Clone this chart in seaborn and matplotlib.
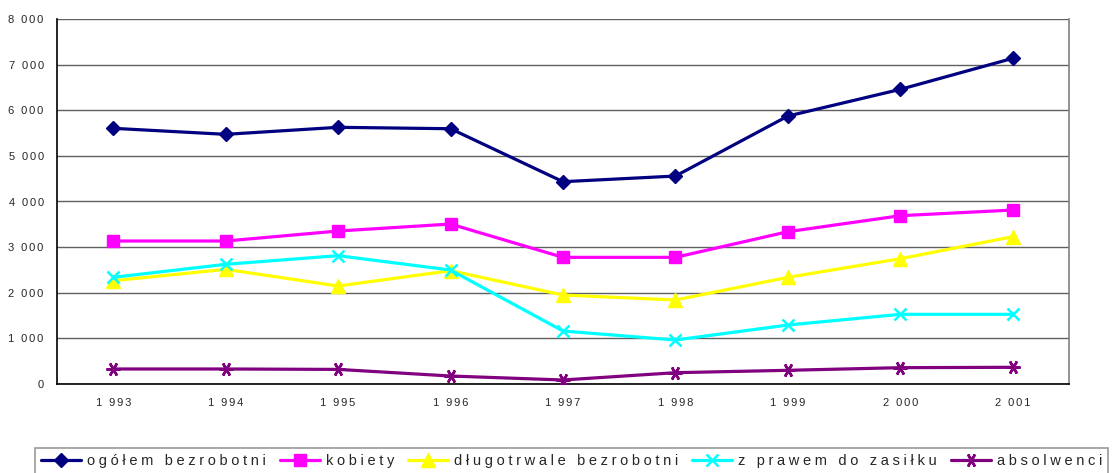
import matplotlib
matplotlib.use("Agg")
import matplotlib.pyplot as plt
import seaborn as sns
import pandas as pd
import numpy as np
from matplotlib.ticker import FuncFormatter, FixedLocator

years = ["1 993", "1 994", "1 995", "1 996", "1 997", "1 998", "1 999", "2 000", "2 001"]
ogolem = [5604, 5472, 5626, 5595, 4434, 4558, 5873, 6458, 7138]
kobiety = [3134, 3134, 3353, 3506, 2776, 2776, 3338, 3689, 3813]
dlugotrwale = [2264, 2513, 2148, 2484, 1950, 1841, 2338, 2747, 3229]
z_prawem = [2338, 2623, 2813, 2498, 1161, 964, 1293, 1527, 1527]
absolwenci = [329, 329, 320, 175, 88, 248, 300, 358, 366]

series_names = ["ogółem bezrobotni", "kobiety", "długotrwale bezrobotni",
                "z prawem do zasiłku", "absolwenci"]
series_vals = [ogolem, kobiety, dlugotrwale, z_prawem, absolwenci]


def spaced(s, sep):
    # emulate the wide letter tracking of the original
    return sep.join(s)


rows = []
for name, vals in zip(series_names, series_vals):
    for i, v in enumerate(vals):
        rows.append({"x": i, "value": v, "series": name})
df = pd.DataFrame(rows)

colors = ["#000080", "#FF00FF", "#FFFF00", "#00FFFF", "#800080"]
markers = ["D", "s", "^", "x", (6, 2, 90)]
msizes = [7, 9, 9.5, 9, 10]

sns.set_style("white")
plt.rcParams["font.family"] = ["Liberation Sans", "DejaVu Sans"]

fig = plt.figure(figsize=(11.19, 4.73), dpi=100)
ax = fig.add_axes([57 / 1119, 1 - 384 / 473, (1069 - 57) / 1119, (384 - 19) / 473])

for name, c, m, ms in zip(series_names, colors, markers, msizes):
    sub = df[df["series"] == name]
    sns.lineplot(data=sub, x="x", y="value", ax=ax, color=c, marker=m,
                 markersize=ms, linewidth=2.3, markeredgecolor=c,
                 markeredgewidth=1.8 if m == "x" or isinstance(m, tuple) else 1,
                 label=spaced(name, "\u2005"), legend=False, zorder=3)

ax.set_xlim(-0.5, len(years) - 0.5)
ax.set_ylim(0, 8000)
ax.set_yticks(np.arange(0, 8001, 1000))
ax.yaxis.set_major_formatter(
    FuncFormatter(lambda v, p: spaced(f"{int(v):,}".replace(",", " "), "\u2006")))
ax.set_xticks(range(len(years)))
ax.set_xticklabels([spaced(y, "\u2006") for y in years])
ax.xaxis.set_minor_locator(FixedLocator(np.arange(0.5, len(years) - 1, 1.0)))
ax.tick_params(axis="x", which="major", length=0, pad=10, labelsize=8)
ax.tick_params(axis="x", which="minor", length=3, direction="in", color="black", width=1)
ax.tick_params(axis="y", length=3.6, direction="out", color="black", width=1,
               labelsize=8, pad=6)
ax.set_xlabel("")
ax.set_ylabel("")
ax.grid(axis="y", color="#606060", linewidth=1)
ax.set_axisbelow(True)
ax.spines["top"].set_visible(False)
ax.spines["right"].set_color("#808080")
ax.spines["left"].set_color("black")
ax.spines["bottom"].set_color("black")
for s in ["left", "bottom", "right"]:
    ax.spines[s].set_linewidth(1.2)

handles, labels = ax.get_legend_handles_labels()
leg = fig.legend(handles, labels, loc="upper left",
                 bbox_to_anchor=(35 / 1119, 1 - 448 / 473), ncol=5,
                 frameon=True, fancybox=False, edgecolor="#808080",
                 fontsize=10.5, handlelength=2.74, handletextpad=0.41,
                 columnspacing=0.96, borderpad=0.4, borderaxespad=0)
leg.get_frame().set_linewidth(1.2)

fig.savefig("out.png", dpi=100)
